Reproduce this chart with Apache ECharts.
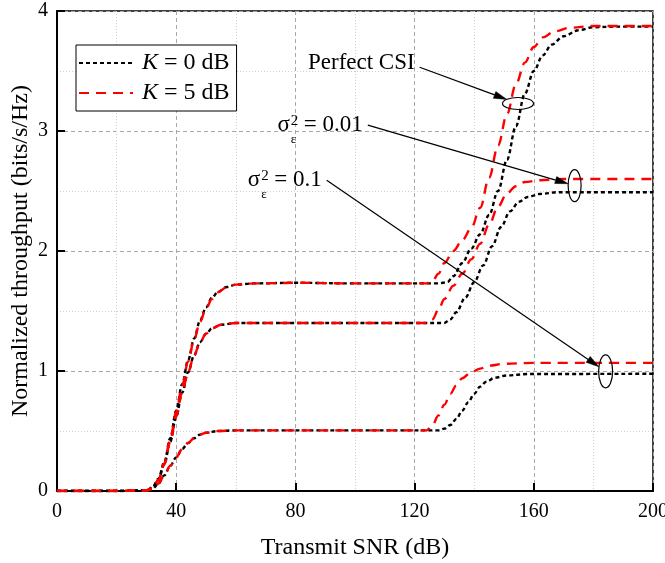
<!DOCTYPE html>
<html>
<head>
<meta charset="utf-8">
<title>Normalized throughput vs transmit SNR</title>
<script src="https://cdn.jsdelivr.net/npm/echarts@6/dist/echarts.min.js"></script>
<style>
  html, body { margin: 0; padding: 0; background: #fff; }
  #chart { width: 665px; height: 563px; }
</style>
</head>
<body>
<div id="chart"></div>
<script>
// ---- axis ticks ----
const snrTicks = [0, 40, 80, 120, 160, 200];
const throughputTicks = [0, 1, 2, 3, 4];

// ---- curves: [transmit SNR (dB), normalized throughput (bits/s/Hz)] ----
// Perfect CSI
const perfectK0 = [[0,0],[20,0],[30,0.005],[32,0.03],[34,0.1],[36,0.24],[38,0.44],[40,0.67],[42,0.89],[44,1.09],[46,1.27],[48,1.42],[50,1.53],[52,1.61],[54,1.66],[57,1.70],[60,1.72],[66,1.73],[80,1.735],[100,1.73],[120,1.73],[128,1.73],[131,1.74],[133,1.79],[136,1.90],[139,2.02],[142,2.14],[145,2.30],[148,2.50],[151,2.76],[154,3.04],[157,3.31],[160,3.50],[163,3.63],[166,3.72],[170,3.79],[175,3.84],[180,3.865],[188,3.87],[200,3.87]];
const perfectK5 = [[0,0],[20,0],[30,0.005],[32,0.025],[34,0.09],[36,0.23],[38,0.43],[40,0.66],[42,0.88],[44,1.08],[46,1.26],[48,1.41],[50,1.52],[52,1.60],[54,1.655],[57,1.70],[60,1.72],[66,1.73],[80,1.735],[100,1.73],[120,1.73],[124,1.73],[126,1.75],[128,1.81],[130,1.90],[133,2.00],[136,2.09],[139,2.19],[142,2.36],[145,2.61],[148,2.88],[151,3.14],[154,3.39],[157,3.57],[160,3.70],[163,3.78],[167,3.83],[172,3.86],[180,3.875],[200,3.875]];
// Channel estimation error variance 0.01
const err001K0 = [[0,0],[20,0],[30,0.005],[32,0.025],[34,0.09],[36,0.22],[38,0.41],[40,0.62],[42,0.82],[44,0.99],[46,1.13],[48,1.24],[50,1.31],[52,1.355],[55,1.385],[60,1.40],[80,1.40],[100,1.40],[120,1.40],[130,1.40],[132,1.43],[134,1.49],[137,1.61],[140,1.74],[143,1.88],[146,2.04],[149,2.20],[152,2.33],[155,2.41],[158,2.45],[162,2.475],[168,2.49],[200,2.49]];
const err001K5 = [[0,0],[20,0],[30,0.005],[32,0.025],[34,0.09],[36,0.22],[38,0.41],[40,0.62],[42,0.82],[44,0.99],[46,1.13],[48,1.24],[50,1.31],[52,1.355],[55,1.385],[60,1.40],[80,1.40],[100,1.40],[124,1.40],[126,1.43],[128,1.51],[130,1.60],[133,1.71],[136,1.81],[139,1.93],[142,2.06],[145,2.22],[148,2.37],[151,2.48],[154,2.54],[157,2.575],[162,2.59],[170,2.60],[200,2.60]];
// Channel estimation error variance 0.1
const err01K0 = [[0,0],[20,0],[30,0.003],[32,0.015],[34,0.06],[36,0.13],[38,0.21],[40,0.28],[42,0.35],[44,0.40],[46,0.44],[48,0.47],[50,0.485],[54,0.50],[60,0.505],[100,0.505],[128,0.505],[130,0.52],[132,0.55],[134,0.60],[136,0.67],[138,0.74],[140,0.81],[142,0.87],[144,0.91],[147,0.945],[151,0.963],[158,0.975],[200,0.977]];
const err01K5 = [[0,0],[20,0],[30,0.003],[32,0.015],[34,0.06],[36,0.13],[38,0.21],[40,0.28],[42,0.35],[44,0.40],[46,0.44],[48,0.47],[50,0.485],[54,0.50],[60,0.505],[100,0.505],[124,0.505],[126,0.55],[128,0.63],[130,0.72],[132,0.81],[134,0.88],[136,0.94],[139,0.99],[142,1.02],[145,1.045],[150,1.06],[160,1.068],[200,1.068]];

// ---- legend names ----
const nameK0 = 'K = 0 dB';
const nameK5 = 'K = 5 dB';

const SERIF = '"Liberation Serif", "Times New Roman", Times, serif';

const chart = echarts.init(document.getElementById('chart'), null, { renderer: 'canvas' });

const dottedBlack = { color: '#000', width: 2.4, type: [4, 3] };
const dashedRed = { color: '#ff0000', width: 2.4, type: [10, 7] };

function curve(name, data, style) {
  return {
    name, type: 'line', data,
    symbol: 'none', showSymbol: false,
    smooth: 0.35, smoothMonotone: 'x',
    lineStyle: style, itemStyle: { color: style.color },
    silent: true, animation: false
  };
}

chart.setOption({
  animation: false,
  backgroundColor: '#fff',
  grid: {
    left: 57, right: 12, top: 11, bottom: 72,
    outerBoundsMode: 'none', containLabel: false,
    show: true, borderColor: '#000', borderWidth: 1.5, backgroundColor: 'transparent'
  },
  legend: {
    data: [nameK0, nameK5],
    orient: 'vertical',
    left: 76, top: 45,
    padding: [6, 7, 6, 2],
    itemWidth: 54, itemHeight: 14, itemGap: 6,
    borderColor: '#000', borderWidth: 1, backgroundColor: '#fff',
    selectedMode: false,
    itemStyle: { opacity: 0, color: 'rgba(0,0,0,0)', borderColor: 'rgba(0,0,0,0)', borderWidth: 0 },
    formatter: n => '{i|K}' + n.slice(1),
    textStyle: {
      fontFamily: SERIF, fontSize: 24, color: '#000', lineHeight: 24, padding: [0, 0, 0, 4],
      rich: { i: { fontFamily: SERIF, fontSize: 24, fontStyle: 'italic', color: '#000', lineHeight: 24 } }
    }
  },
  xAxis: {
    type: 'value',
    min: snrTicks[0], max: snrTicks[snrTicks.length - 1], interval: snrTicks[1] - snrTicks[0],
    name: 'Transmit SNR (dB)', nameLocation: 'middle', nameGap: 45, nameMoveOverlap: false,
    nameTextStyle: { fontFamily: SERIF, fontSize: 24, color: '#000' },
    axisLine: { show: true, onZero: false, lineStyle: { color: '#000', width: 2 } },
    axisTick: { show: true, inside: true, length: 8, lineStyle: { color: '#000', width: 2 } },
    axisLabel: { fontFamily: SERIF, fontSize: 20, color: '#000', margin: 11 },
    splitLine: { show: true, lineStyle: { color: '#a8a8a8', width: 1, type: [4, 3] } },
    minorTick: { show: false, splitNumber: 2 },
    minorSplitLine: { show: true, lineStyle: { color: '#cfcfcf', width: 1, type: [1, 2] } }
  },
  yAxis: {
    type: 'value',
    min: throughputTicks[0], max: throughputTicks[throughputTicks.length - 1], interval: throughputTicks[1] - throughputTicks[0],
    name: 'Normalized throughput (bits/s/Hz)', nameLocation: 'middle', nameGap: 24, nameMoveOverlap: false,
    nameTextStyle: { fontFamily: SERIF, fontSize: 24, color: '#000' },
    axisLine: { show: true, onZero: false, lineStyle: { color: '#000', width: 2 } },
    axisTick: { show: true, inside: true, length: 8, lineStyle: { color: '#000', width: 2 } },
    axisLabel: { fontFamily: SERIF, fontSize: 20, color: '#000', margin: 9 },
    splitLine: { show: true, lineStyle: { color: '#a8a8a8', width: 1, type: [4, 3] } },
    minorTick: { show: false, splitNumber: 2 },
    minorSplitLine: { show: true, lineStyle: { color: '#cfcfcf', width: 1, type: [1, 2] } }
  },
  series: [
    curve(nameK0, perfectK0, dottedBlack),
    curve(nameK0, err001K0, dottedBlack),
    curve(nameK0, err01K0, dottedBlack),
    curve(nameK5, perfectK5, dashedRed),
    curve(nameK5, err001K5, dashedRed),
    curve(nameK5, err01K5, dashedRed)
  ]
});

// ---- callouts: label, arrow and ellipse around each curve pair ----
const callouts = [
  { kind: 'plain', text: 'Perfect CSI', from: [121.7, 3.531], center: [154.7, 3.229], radii: [15.5, 6], dy: -4 },
  { kind: 'sigma', text: '= 0.01', from: [104.3, 3.049], center: [173.7, 2.545], radii: [6.5, 16], dy: 0 },
  { kind: 'sigma', text: '= 0.1', from: [90.5, 2.590], center: [184.1, 0.997], radii: [7, 16.5], dy: 0 }
];

const measureCtx = document.createElement('canvas').getContext('2d');
function textWidth(str, size) {
  measureCtx.font = size + 'px ' + SERIF;
  return measureCtx.measureText(str).width;
}

function txt(x, y, str, size, align, extra) {
  return {
    type: 'text', x, y, silent: true, z: 100,
    style: Object.assign({
      text: str, fill: '#000', font: size + 'px ' + SERIF,
      align, verticalAlign: 'middle'
    }, extra || {})
  };
}

const elements = [];
callouts.forEach(c => {
  const s = chart.convertToPixel({ gridIndex: 0 }, c.from);
  const m = chart.convertToPixel({ gridIndex: 0 }, c.center);
  const [rx, ry] = c.radii;
  const dx = m[0] - s[0], dy = m[1] - s[1];
  const k = 1 / Math.sqrt((dx / rx) * (dx / rx) + (dy / ry) * (dy / ry));
  const tip = [m[0] - dx * k, m[1] - dy * k];
  const len = Math.hypot(tip[0] - s[0], tip[1] - s[1]);
  const ux = (tip[0] - s[0]) / len, uy = (tip[1] - s[1]) / len;
  const headL = 13, headW = 3.6;
  const base = [tip[0] - ux * headL, tip[1] - uy * headL];
  elements.push({ type: 'line', silent: true, z: 100,
    shape: { x1: s[0], y1: s[1], x2: base[0], y2: base[1] },
    style: { stroke: '#000', lineWidth: 1.2 } });
  elements.push({ type: 'polygon', silent: true, z: 100,
    shape: { points: [tip, [base[0] - uy * headW, base[1] + ux * headW], [base[0] + uy * headW, base[1] - ux * headW]] },
    style: { fill: '#000', stroke: '#000', lineWidth: 0.5 } });
  elements.push({ type: 'ellipse', silent: true, z: 100,
    shape: { cx: m[0], cy: m[1], rx, ry },
    style: { fill: 'none', stroke: '#000', lineWidth: 1.2 } });

  const right = s[0] - 5;
  const y = s[1] + c.dy;
  if (c.kind === 'plain') {
    elements.push(txt(right, y, c.text, 23, 'right'));
  } else {
    const mainW = textWidth(c.text, 23);
    const mainLeft = right - mainW;
    const scriptX = mainLeft - 13;
    elements.push(txt(right, y, c.text, 23, 'right'));
    elements.push(txt(scriptX, y - 4, '2', 15, 'left'));
    elements.push(txt(scriptX, y + 14, 'ε', 13, 'left'));
    elements.push(txt(scriptX - 1, y, 'σ', 23, 'right'));
  }
});

chart.setOption({ graphic: { elements } });
</script>
</body>
</html>
